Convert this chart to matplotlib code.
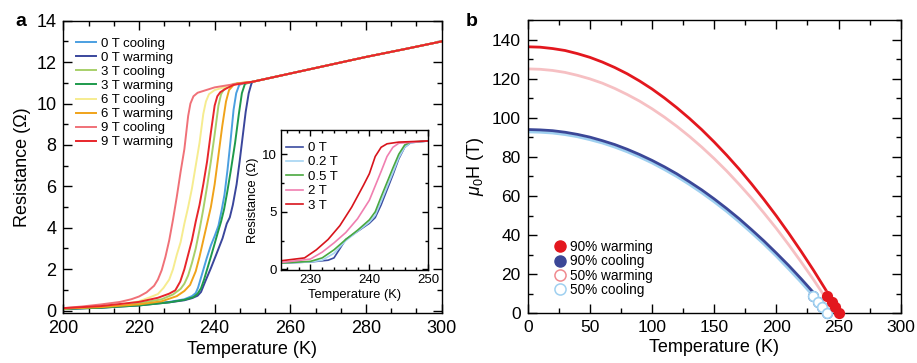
import matplotlib
matplotlib.use("Agg")
import matplotlib.pyplot as plt
from matplotlib.ticker import MultipleLocator
from matplotlib.lines import Line2D

plt.rcParams["font.family"] = ["Liberation Sans", "DejaVu Sans"]
plt.rcParams["mathtext.fontset"] = "custom"
plt.rcParams["mathtext.it"] = "Liberation Sans:italic"
plt.rcParams["mathtext.rm"] = "Liberation Sans"

# ---- panel a: R(T) at several fields, cooling and warming ----
normal_T = [250, 260, 270, 280, 290, 300]
normal_R = [11.05, 11.45, 11.85, 12.25, 12.62, 13.0]

t_0T_cool = [200, 210, 220, 228, 232, 234, 235, 235.6, 236.6, 237.9, 239, 240, 241, 241.8, 242.6,
             243.4, 244.2, 245, 245.7, 246.5, 248]
r_0T_cool = [0.08, 0.15, 0.28, 0.42, 0.55, 0.7, 0.85, 1.1, 1.72, 2.53, 3.15, 3.6, 4.1, 4.8, 5.6,
             6.8, 8.2, 9.7, 10.5, 10.9, 11.0]

t_0T_warm = [200, 210, 220, 228, 232, 234, 235.5, 236.4, 237.5, 239, 240.4, 242.1, 243.2, 244,
             244.8, 245.8, 246.6, 247.4, 248.2, 249, 249.7]
r_0T_warm = [0.08, 0.14, 0.25, 0.4, 0.5, 0.6, 0.72, 0.9, 1.4, 2.05, 2.7, 3.5, 4.2, 4.5,
             5.1, 6.1, 7.2, 8.4, 9.6, 10.5, 10.95]

t_3T_cool = [200, 210, 220, 226, 229, 231, 232, 233, 234, 235, 236, 237, 238, 239, 240, 241,
             241.7, 242.5, 245]
r_3T_cool = [0.1, 0.18, 0.35, 0.55, 0.78, 1.05, 1.3, 1.7, 2.3, 3.0, 3.9, 4.9, 6.0, 7.2, 8.5, 9.9,
             10.45, 10.7, 10.95]

t_3T_warm = [200, 210, 220, 228, 232, 234.4, 235.5, 236.4, 237.2, 238.1, 239, 239.9, 240.8, 241.7,
             242.5, 243.3, 244.3, 245.4, 246.4, 247.2, 248]
r_3T_warm = [0.08, 0.14, 0.25, 0.4, 0.52, 0.65, 0.82, 1.08, 1.5, 2.05, 2.6, 3.17, 3.75, 4.3,
             4.9, 5.7, 6.8, 8.1, 9.5, 10.5, 10.95]

t_6T_cool = [200, 210, 215, 220, 223, 225, 226.5, 228, 229, 230, 231, 232, 233, 234, 235, 236,
             237, 237.7, 238.5, 240, 245]
r_6T_cool = [0.1, 0.2, 0.28, 0.45, 0.65, 0.8, 1.1, 1.5, 2.0, 2.7, 3.3, 4.2, 5.0, 5.9, 7.0, 8.1,
             9.5, 10.1, 10.45, 10.65, 10.92]

t_6T_warm = [200, 210, 220, 226, 230, 232, 233.5, 235, 236, 237, 238, 239, 240, 241, 242, 243,
             243.8, 245, 246]
r_6T_warm = [0.1, 0.17, 0.3, 0.45, 0.7, 0.95, 1.24, 1.9, 2.6, 3.4, 4.2, 5.0, 6.1, 7.5, 8.9, 10.1,
             10.65, 10.9, 10.98]

t_9T_cool = [200, 205, 210, 215, 218, 220, 222, 224, 225, 226, 227, 228, 229, 230, 231, 232,
             233, 233.6, 234.4, 235.5, 240, 245]
r_9T_cool = [0.12, 0.2, 0.3, 0.42, 0.55, 0.68, 0.88, 1.2, 1.5, 1.95, 2.6, 3.4, 4.4, 5.5, 6.7, 7.8,
             9.4, 10.0, 10.35, 10.52, 10.78, 10.93]

t_9T_warm = [200, 210, 220, 225, 228, 229.6, 230.9, 232, 233, 234, 235, 236, 237, 238, 239, 240,
             240.7, 241.5, 243, 245]
r_9T_warm = [0.12, 0.22, 0.42, 0.62, 0.82, 0.98, 1.4, 2.0, 2.7, 3.4, 4.3, 5.1, 6.1, 7.2, 8.6, 9.9,
             10.35, 10.55, 10.72, 10.9]

labels_a = ["0 T cooling", "0 T warming", "3 T cooling", "3 T warming",
            "6 T cooling", "6 T warming", "9 T cooling", "9 T warming"]
colors_a = ["#4b9fe1", "#3a469c", "#a8d06a", "#1e9a4c",
            "#f6ec8f", "#f0a31a", "#f07178", "#e8262b"]
curves_a = [(t_0T_cool, r_0T_cool), (t_0T_warm, r_0T_warm),
            (t_3T_cool, r_3T_cool), (t_3T_warm, r_3T_warm),
            (t_6T_cool, r_6T_cool), (t_6T_warm, r_6T_warm),
            (t_9T_cool, r_9T_cool), (t_9T_warm, r_9T_warm)]

# ---- inset: low-field warming curves ----
ti_0T = [225, 230, 233, 234, 235, 236, 238, 240, 241, 242, 244, 245, 246, 247, 250]
ri_0T = [0.55, 0.65, 0.8, 1.0, 1.8, 2.6, 3.3, 4.0, 4.5, 5.6, 8.2, 9.6, 10.6, 11.0, 11.15]
ti_02T = [225, 230, 232, 234, 236, 238, 240, 241, 242, 244, 245, 246, 247, 250]
ri_02T = [0.55, 0.65, 0.8, 1.4, 2.5, 3.3, 4.1, 4.7, 5.9, 8.4, 9.7, 10.6, 11.0, 11.15]
ti_05T = [225, 230, 232, 234, 236, 238, 240, 241, 242, 244, 245, 246, 247, 250]
ri_05T = [0.55, 0.7, 1.0, 1.7, 2.6, 3.4, 4.3, 5.0, 6.3, 8.8, 10.0, 10.8, 11.05, 11.15]
ti_2T = [225, 230, 232, 234, 236, 238, 240, 242, 243, 244, 245, 250]
ri_2T = [0.6, 0.9, 1.5, 2.3, 3.2, 4.4, 6.0, 8.5, 9.8, 10.6, 10.95, 11.15]
ti_3T = [225, 229, 231, 233, 235, 237, 239, 240, 241, 242, 243, 245, 250]
ri_3T = [0.75, 1.0, 1.7, 2.6, 3.8, 5.4, 7.3, 8.3, 9.8, 10.6, 10.9, 11.05, 11.15]

labels_in = ["0 T", "0.2 T", "0.5 T", "2 T", "3 T"]
colors_in = ["#3b4ba0", "#a6d4f2", "#4aa840", "#f07fb0", "#d8141c"]
curves_in = [(ti_0T, ri_0T), (ti_02T, ri_02T), (ti_05T, ri_05T), (ti_2T, ri_2T), (ti_3T, ri_3T)]

# ---- panel b: critical field vs temperature ----
tb = [0, 10, 20, 30, 40, 50, 60, 70, 80, 90, 100, 110, 120, 130, 140,
      150, 160, 170, 180, 190, 200, 210, 220, 230, 240]
h_90_warm = [136.3, 136.1, 135.4, 134.4, 132.8, 130.9, 128.5, 125.7, 122.5, 118.8, 114.7, 110.1, 105.1,
             99.7, 93.9, 87.6, 80.9, 73.8, 66.2, 58.2, 49.8, 40.9, 31.6, 21.9, 11.7]
h_50_warm = [125.0, 124.8, 124.2, 123.2, 121.7, 119.9, 117.7, 115.0, 111.9, 108.5, 104.6, 100.3, 95.6,
             90.5, 85.0, 79.1, 72.8, 66.0, 58.9, 51.3, 43.4, 35.0, 26.2, 17.1, 7.5]
h_90_cool = [94.0, 93.8, 93.4, 92.6, 91.5, 90.1, 88.3, 86.3, 83.9, 81.2, 78.2, 74.9, 71.3,
             67.3, 63.1, 58.5, 53.6, 48.4, 42.8, 37.0, 30.8, 24.4, 17.6, 10.5, 3.1]
h_50_cool = [92.8, 92.6, 92.2, 91.4, 90.3, 88.8, 87.1, 85.0, 82.6, 79.9, 76.9, 73.5, 69.9,
             65.9, 61.6, 57.0, 52.1, 46.8, 41.2, 35.4, 29.2, 22.6, 15.8, 8.6, 1.1]
tc_90_warm, tc_50_warm, tc_90_cool, tc_50_cool = 251.0, 247.5, 244.0, 241.5

field_pts = [9, 6, 3, 0]
t_pts_warm = [241.0, 244.5, 247.5, 250.5]
t_pts_cool = [229.5, 233.5, 237.0, 240.5]

c_red, c_pink, c_navy, c_lblue = "#e3171e", "#f6c0c3", "#3b4797", "#9fd0f0"


def style_axes(ax, size, major, minor):
    ax.tick_params(which="both", direction="in", top=True, right=True, labelsize=size, pad=5, width=1.0)
    ax.tick_params(which="major", length=major)
    ax.tick_params(which="minor", length=minor)
    for s in ax.spines.values():
        s.set_linewidth(1.0)


fig = plt.figure(figsize=(9.17, 3.63), dpi=100)

# panel a
ax = fig.add_axes([0.069, 0.1386, 0.4127, 0.8044])
for (t, r), c, lab in zip(curves_a, colors_a, labels_a):
    ax.plot(list(t) + normal_T, list(r) + normal_R, color=c, lw=1.4, label=lab)
ax.set_xlim(200, 300)
ax.set_ylim(-0.1, 14)
ax.xaxis.set_major_locator(MultipleLocator(20))
ax.xaxis.set_minor_locator(MultipleLocator(20 / 3))
ax.yaxis.set_major_locator(MultipleLocator(2))
ax.yaxis.set_minor_locator(MultipleLocator(1))
style_axes(ax, 13, 6.5, 3.7)
ax.set_xlabel("Temperature (K)", fontsize=13, labelpad=3)
ax.set_ylabel("Resistance (Ω)", fontsize=13, labelpad=4)
ax.legend(loc="upper left", bbox_to_anchor=(0.033, 0.942), frameon=False, fontsize=9.5,
          handlelength=1.5, handletextpad=0.4, labelspacing=0.14, borderpad=0, borderaxespad=0)

# inset
axi = fig.add_axes([0.3064, 0.2562, 0.1606, 0.3857])
for (t, r), c, lab in zip(curves_in, colors_in, labels_in):
    axi.plot(t, r, color=c, lw=1.2, label=lab)
axi.set_xlim(225, 250)
axi.set_ylim(-0.05, 12.1)
axi.xaxis.set_major_locator(MultipleLocator(10))
axi.xaxis.set_minor_locator(MultipleLocator(2))
axi.yaxis.set_major_locator(MultipleLocator(5))
axi.yaxis.set_minor_locator(MultipleLocator(2.5))
style_axes(axi, 9.5, 4.5, 2.5)
axi.tick_params(pad=3)
axi.set_xlabel("Temperature (K)", fontsize=9.3, labelpad=2)
axi.set_ylabel("Resistance (Ω)", fontsize=9.3, labelpad=2)
axi.legend(loc="upper left", bbox_to_anchor=(0.035, 0.915), frameon=False, fontsize=9.5,
           handlelength=1.3, handletextpad=0.35, labelspacing=0.16, borderpad=0, borderaxespad=0)

# panel b
bx = fig.add_axes([0.5755, 0.1369, 0.4067, 0.808])
bx.plot(tb + [tc_50_warm], h_50_warm + [0], color=c_pink, lw=2.0)
bx.plot(tb + [tc_50_cool], h_50_cool + [0], color=c_lblue, lw=2.0)
bx.plot(tb + [tc_90_cool], h_90_cool + [0], color=c_navy, lw=2.0)
bx.plot(tb + [tc_90_warm], h_90_warm + [0], color=c_red, lw=2.0)
bx.plot(t_pts_cool, field_pts, "o", ms=7, mfc=c_navy, mec=c_navy, clip_on=False, zorder=3)
bx.plot(t_pts_cool, field_pts, "o", ms=7, mfc="white", mec=c_lblue, mew=1.2, clip_on=False, zorder=4)
bx.plot(t_pts_warm, field_pts, "o", ms=7, mfc="none", mec=c_pink, mew=1.2, clip_on=False, zorder=3)
bx.plot(t_pts_warm, field_pts, "o", ms=7, mfc=c_red, mec=c_red, clip_on=False, zorder=4)
bx.set_xlim(0, 300)
bx.set_ylim(0, 150)
bx.xaxis.set_major_locator(MultipleLocator(50))
bx.xaxis.set_minor_locator(MultipleLocator(25))
bx.yaxis.set_major_locator(MultipleLocator(20))
bx.yaxis.set_minor_locator(MultipleLocator(10))
style_axes(bx, 12.5, 6.5, 3.7)
bx.set_xlabel("Temperature (K)", fontsize=13, labelpad=3)
bx.set_ylabel(r"$\mu_0$H (T)", fontsize=13, labelpad=4)
handles = [
    Line2D([], [], ls="none", marker="o", ms=8, mfc=c_red, mec=c_red),
    Line2D([], [], ls="none", marker="o", ms=8, mfc=c_navy, mec=c_navy),
    Line2D([], [], ls="none", marker="o", ms=8, mfc="none", mec="#f08a8f", mew=1.1),
    Line2D([], [], ls="none", marker="o", ms=8, mfc="none", mec=c_lblue, mew=1.1),
]
bx.legend(handles, ["90% warming", "90% cooling", "50% warming", "50% cooling"],
          loc="lower left", bbox_to_anchor=(0.072, 0.055), frameon=False, fontsize=9.8,
          handlelength=0.8, handletextpad=0.35, labelspacing=0.03, borderpad=0, borderaxespad=0)

fig.text(0.0164, 0.942, "a", fontsize=14, fontweight="bold", va="center", ha="left")
fig.text(0.508, 0.942, "b", fontsize=14, fontweight="bold", va="center", ha="left")

fig.savefig("out.png", dpi=100, facecolor="white")
